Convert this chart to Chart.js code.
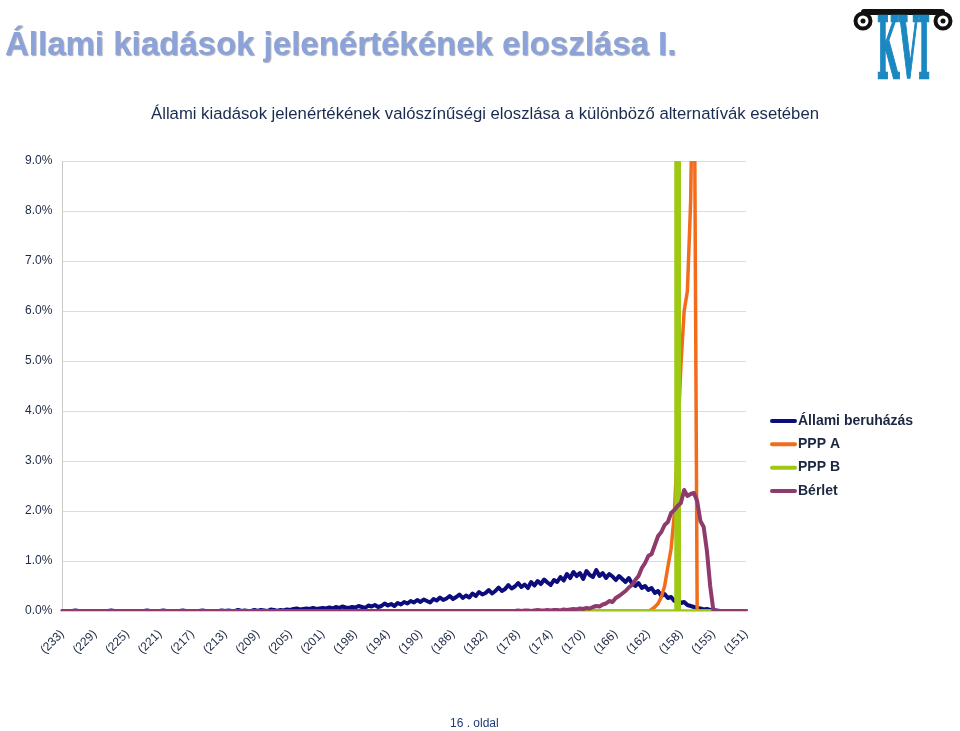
<!DOCTYPE html>
<html>
<head>
<meta charset="utf-8">
<script src="https://cdn.jsdelivr.net/npm/chart.js@4.4.1/dist/chart.umd.min.js"></script>
<style>
  html, body { margin: 0; padding: 0; background: #fff; }
  #page { position: relative; width: 960px; height: 731px; overflow: hidden; font-family: "Liberation Sans", Arial, sans-serif; }
  #chartBox { position: absolute; left: 0; top: 0; width: 960px; height: 731px; }
  #mainTitle { position: absolute; left: 5px; top: 27px; font-size: 33px; line-height: 33px; font-weight: bold; color: #8ba3d9; text-shadow: 1px 1px 1px rgba(70,70,90,0.45); white-space: nowrap; }
  #footer { position: absolute; left: 450px; top: 716px; font-size: 12px; color: #1f3a78; }
  #logo { position: absolute; left: 850px; top: 0; }
</style>
</head>
<body>
<div id="page">
  <div id="chartBox"><canvas id="chart"></canvas></div>
  <div id="mainTitle">Állami kiadások jelenértékének eloszlása I.</div>
  <svg id="logo" width="110" height="84" viewBox="850 0 110 84">
    <path d="M864 12 H942" stroke="#111" stroke-width="6" stroke-linecap="round" fill="none"/>
    <circle cx="863" cy="21" r="7.5" stroke="#111" stroke-width="4" fill="none"/>
    <circle cx="863" cy="21" r="2.5" fill="#111"/>
    <circle cx="943" cy="21" r="7.5" stroke="#111" stroke-width="4" fill="none"/>
    <circle cx="943" cy="21" r="2.5" fill="#111"/>
    <text x="877" y="78" font-family="DejaVu Serif, serif" font-weight="bold" font-size="84" fill="#1c88c2" stroke="#1c88c2" stroke-width="2.5" textLength="53" lengthAdjust="spacingAndGlyphs">KVI</text>
  </svg>
  <div id="footer">16 . oldal</div>
</div>
<script>
// x tick labels, one every 10 points
const tickLabels = ['(233)', '(229)', '(225)', '(221)', '(217)', '(213)', '(209)', '(205)', '(201)', '(198)', '(194)',
  '(190)', '(186)', '(182)', '(178)', '(174)', '(170)', '(166)', '(162)', '(158)', '(155)', '(151)'];

// values in %
const allamiBeruhazas = [
  0, 0, 0, 0, 0.01, 0, 0, 0, 0, 0,
  0, 0, 0, 0, 0, 0.01, 0, 0, 0, 0,
  0, 0, 0, 0, 0, 0, 0.01, 0, 0, 0,
  0, 0.01, 0, 0, 0, 0, 0, 0.01, 0, 0,
  0, 0, 0, 0.01, 0, 0, 0, 0, 0, 0.01,
  0, 0.01, 0, 0, 0.02, 0, 0.01, 0, 0, 0.02,
  0, 0.02, 0.01, 0, 0.03, 0.02, 0, 0.02, 0.01, 0.03,
  0.02, 0.04, 0.05, 0.03, 0.04, 0.05, 0.04, 0.06, 0.04, 0.05,
  0.06, 0.05, 0.07, 0.05, 0.08, 0.06, 0.09, 0.07, 0.06, 0.08,
  0.07, 0.10, 0.08, 0.06, 0.11, 0.09, 0.12, 0.08, 0.10, 0.15,
  0.11, 0.14, 0.10, 0.16, 0.13, 0.18, 0.15, 0.20, 0.17, 0.22,
  0.18, 0.23, 0.20, 0.17, 0.24, 0.21, 0.27, 0.22, 0.25, 0.30,
  0.24, 0.28, 0.33, 0.26, 0.31, 0.27, 0.35, 0.30, 0.38, 0.33,
  0.36, 0.42, 0.35, 0.40, 0.47, 0.40, 0.44, 0.52, 0.45, 0.49,
  0.56, 0.48, 0.53, 0.46, 0.58, 0.51, 0.60, 0.54, 0.63, 0.57,
  0.52, 0.62, 0.58, 0.68, 0.61, 0.74, 0.66, 0.78, 0.70, 0.76,
  0.64, 0.80, 0.72, 0.68, 0.82, 0.70, 0.76, 0.66, 0.74, 0.69,
  0.62, 0.70, 0.64, 0.58, 0.66, 0.55, 0.50, 0.56, 0.46, 0.50,
  0.42, 0.46, 0.36, 0.40, 0.30, 0.34, 0.26, 0.28, 0.20, 0.24,
  0.16, 0.18, 0.12, 0.10, 0.08, 0.06, 0.05, 0.03, 0.04, 0.02,
  0.02, 0.01, 0, 0, 0, 0, 0, 0, 0, 0, 0
];

const pppA = [
  0, 0, 0, 0, 0, 0, 0, 0, 0, 0,
  0, 0, 0, 0, 0, 0, 0, 0, 0, 0,
  0, 0, 0, 0, 0, 0, 0, 0, 0, 0,
  0, 0, 0, 0, 0, 0, 0, 0, 0, 0,
  0, 0, 0, 0, 0, 0, 0, 0, 0, 0,
  0, 0, 0, 0, 0, 0, 0, 0, 0, 0,
  0, 0, 0, 0, 0, 0, 0, 0, 0, 0,
  0, 0, 0, 0, 0, 0, 0, 0, 0, 0,
  0, 0, 0, 0, 0, 0, 0, 0, 0, 0,
  0, 0, 0, 0, 0, 0, 0, 0, 0, 0,
  0, 0, 0, 0, 0, 0, 0, 0, 0, 0,
  0, 0, 0, 0, 0, 0, 0, 0, 0, 0,
  0, 0, 0, 0, 0, 0, 0, 0, 0, 0,
  0, 0, 0, 0, 0, 0, 0, 0, 0, 0,
  0, 0, 0, 0, 0, 0, 0, 0, 0, 0,
  0, 0, 0, 0, 0, 0, 0, 0, 0, 0,
  0, 0, 0, 0, 0, 0, 0, 0, 0, 0,
  0, 0, 0, 0, 0, 0, 0, 0, 0, 0,
  0, 0.03, 0.08, 0.15, 0.28, 0.5, 0.88, 1.25, 1.95, 3.4,
  4.9, 6.0, 6.4, 8.2, 12.5, 0, 0, 0, 0, 0,
  0, 0, 0, 0, 0, 0, 0, 0, 0, 0, 0
];

const pppB = [
  0, 0, 0, 0, 0, 0, 0, 0, 0, 0,
  0, 0, 0, 0, 0, 0, 0, 0, 0, 0,
  0, 0, 0, 0, 0, 0, 0, 0, 0, 0,
  0, 0, 0, 0, 0, 0, 0, 0, 0, 0,
  0, 0, 0, 0, 0, 0, 0, 0, 0, 0,
  0, 0, 0, 0, 0, 0, 0, 0, 0, 0,
  0, 0, 0, 0, 0, 0, 0, 0, 0, 0,
  0, 0, 0, 0, 0, 0, 0, 0, 0, 0,
  0, 0, 0, 0, 0, 0, 0, 0, 0, 0,
  0, 0, 0, 0, 0, 0, 0, 0, 0, 0,
  0, 0, 0, 0, 0, 0, 0, 0, 0, 0,
  0, 0, 0, 0, 0, 0, 0, 0, 0, 0,
  0, 0, 0, 0, 0, 0, 0, 0, 0, 0,
  0, 0, 0, 0, 0, 0, 0, 0, 0, 0,
  0, 0, 0, 0, 0, 0, 0, 0, 0, 0,
  0, 0, 0, 0, 0, 0, 0, 0, 0, 0,
  0, 0, 0, 0, 0, 0, 0, 0, 0, 0,
  0, 0, 0, 0, 0, 0, 0, 0, 0, 0,
  0, 0, 0, 0, 0, 0, 0, 0, 0, 60,
  0, 0, 0, 0, 0, 0, 0, 0, 0, 0,
  0, 0, 0, 0, 0, 0, 0, 0, 0, 0, 0
];

const berlet = [
  0, 0, 0, 0, 0, 0, 0, 0, 0, 0,
  0, 0, 0, 0, 0, 0, 0, 0, 0, 0,
  0, 0, 0, 0, 0, 0, 0, 0, 0, 0,
  0, 0, 0, 0, 0, 0, 0, 0, 0, 0,
  0, 0, 0, 0, 0, 0, 0, 0, 0, 0,
  0, 0, 0, 0, 0, 0, 0, 0, 0, 0,
  0, 0, 0, 0, 0, 0, 0, 0, 0, 0,
  0, 0, 0, 0, 0, 0, 0, 0, 0, 0,
  0, 0, 0, 0, 0, 0, 0, 0, 0, 0,
  0, 0, 0, 0, 0, 0, 0, 0, 0, 0,
  0, 0, 0, 0, 0, 0, 0, 0, 0, 0,
  0, 0, 0, 0, 0, 0, 0, 0, 0, 0,
  0, 0, 0, 0, 0, 0, 0, 0, 0, 0,
  0, 0, 0, 0, 0, 0, 0, 0, 0, 0,
  0.01, 0, 0.01, 0.01, 0, 0.01, 0.02, 0.01, 0.01, 0.02,
  0.01, 0.02, 0.02, 0.01, 0.03, 0.02, 0.03, 0.04, 0.03, 0.05,
  0.04, 0.06, 0.05, 0.08, 0.10, 0.09, 0.13, 0.15, 0.20, 0.18,
  0.26, 0.30, 0.35, 0.40, 0.47, 0.52, 0.62, 0.70, 0.86, 0.96,
  1.10, 1.14, 1.32, 1.50, 1.58, 1.72, 1.78, 1.96, 2.02, 2.10,
  2.16, 2.42, 2.30, 2.34, 2.36, 2.20, 1.80, 1.68, 1.20, 0.50,
  0, 0, 0, 0, 0, 0, 0, 0, 0, 0, 0
];

const categories = [];
for (let i = 0; i < allamiBeruhazas.length; i++) {
  categories.push(i % 10 === 0 ? tickLabels[i / 10] : '');
}

const textColor = '#1c2842';
const fontFamily = '"Liberation Sans", Arial, sans-serif';

// legend drawn beside the plot, like the original
const sideLegend = {
  id: 'sideLegend',
  afterDraw(chart) {
    const { ctx, chartArea } = chart;
    const x0 = chartArea.right + 24;
    let y = chartArea.top + 260;
    ctx.save();
    ctx.font = 'bold 14px ' + fontFamily;
    ctx.textBaseline = 'middle';
    chart.data.datasets.forEach(ds => {
      ctx.strokeStyle = ds.borderColor;
      ctx.lineWidth = 4;
      ctx.lineCap = 'round';
      ctx.beginPath();
      ctx.moveTo(x0 + 2, y);
      ctx.lineTo(x0 + 25, y);
      ctx.stroke();
      ctx.fillStyle = textColor;
      ctx.fillText(ds.label, x0 + 28, y);
      y += 23.3;
    });
    ctx.restore();
  }
};

new Chart(document.getElementById('chart'), {
  type: 'line',
  data: {
    labels: categories,
    datasets: [
      { label: 'Állami beruházás', data: allamiBeruhazas, borderColor: '#0c0c7c', borderWidth: 4, order: 4 },
      { label: 'PPP A', data: pppA, borderColor: '#f26c1c', borderWidth: 3.5, order: 3 },
      { label: 'PPP B', data: pppB, borderColor: '#9dc814', borderWidth: 3.5, stepped: 'middle', order: 2 },
      { label: 'Bérlet', data: berlet, borderColor: '#8e3a6c', borderWidth: 4, order: 1 }
    ]
  },
  options: {
    responsive: true,
    maintainAspectRatio: false,
    animation: false,
    layout: { padding: { left: 15, right: 5, top: 0, bottom: 58 } },
    elements: {
      point: { radius: 0 },
      line: { tension: 0, borderJoinStyle: 'round', borderCapStyle: 'round' }
    },
    plugins: {
      legend: { display: false },
      tooltip: { enabled: false },
      title: {
        display: true,
        text: 'Állami kiadások jelenértékének valószínűségi eloszlása a különböző alternatívák esetében',
        color: '#1a2b4f',
        font: { family: fontFamily, size: 16.7, weight: 'normal' },
        padding: { top: 104, bottom: 37 }
      }
    },
    scales: {
      x: {
        grid: { display: false, drawTicks: false },
        border: { color: '#d0d0d0', width: 2 },
        ticks: {
          autoSkip: false, maxRotation: 45, minRotation: 45, padding: 16,
          color: textColor, font: { family: fontFamily, size: 12 }
        }
      },
      y: {
        min: 0, max: 9,
        grid: { color: '#dcdcdc', drawTicks: false },
        border: { color: '#c8c8c8' },
        ticks: {
          stepSize: 1, padding: 10, color: textColor,
          font: { family: fontFamily, size: 12 },
          callback: v => v.toFixed(1) + '%'
        }
      },
      // empty right axis keeps room for the legend
      y2: {
        position: 'right',
        grid: { display: false, drawTicks: false },
        border: { display: false },
        ticks: { display: false },
        afterFit: s => { s.width = 209; }
      }
    }
  },
  plugins: [sideLegend]
});
</script>
</body>
</html>
